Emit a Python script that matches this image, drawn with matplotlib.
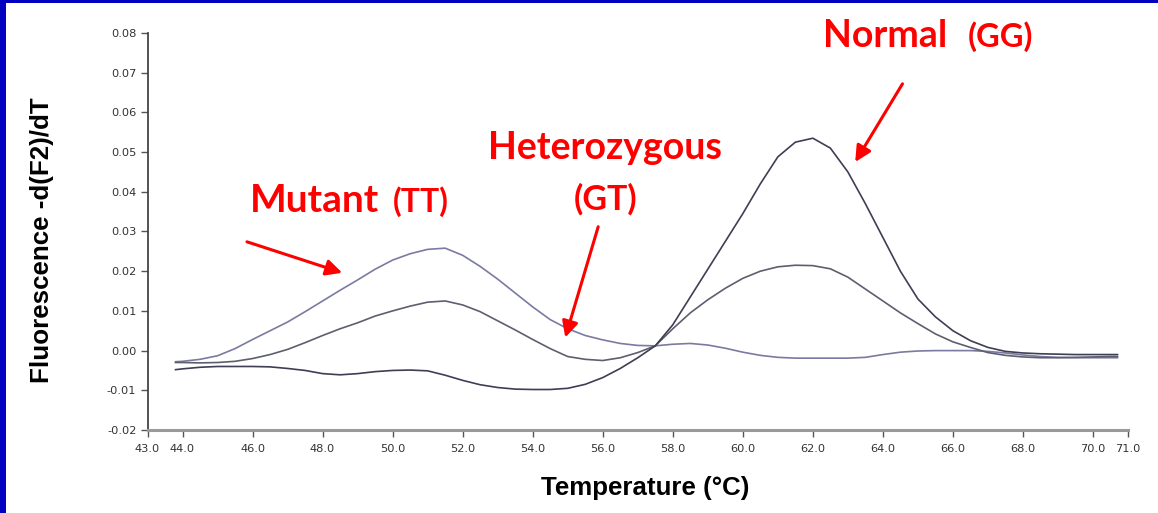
import matplotlib
matplotlib.use("Agg")
import matplotlib.pyplot as plt
from matplotlib.patches import Rectangle

# melt curve readings, -d(F2)/dT against temperature
temps = [43.8, 44.0, 44.5, 45.0, 45.5, 46.0, 46.5, 47.0, 47.5, 48.0,
         48.5, 49.0, 49.5, 50.0, 50.5, 51.0, 51.5, 52.0, 52.5, 53.0,
         53.5, 54.0, 54.5, 55.0, 55.5, 56.0, 56.5, 57.0, 57.5, 58.0,
         58.5, 59.0, 59.5, 60.0, 60.5, 61.0, 61.5, 62.0, 62.5, 63.0,
         63.5, 64.0, 64.5, 65.0, 65.5, 66.0, 66.5, 67.0, 67.5, 68.0,
         68.5, 69.0, 69.5, 70.0, 70.5, 70.7]

normal_gg = [-0.0048, -0.0046, -0.0042, -0.0040, -0.0040, -0.0040, -0.0041, -0.0045, -0.0050, -0.0058,
             -0.0061, -0.0058, -0.0053, -0.0050, -0.0049, -0.0051, -0.0062, -0.0075, -0.0086, -0.0093,
             -0.0097, -0.0098, -0.0098, -0.0095, -0.0085, -0.0068, -0.0045, -0.0018, 0.0012, 0.0065,
             0.0135, 0.0205, 0.0275, 0.0345, 0.0420, 0.0488, 0.0525, 0.0535, 0.0510, 0.0450,
             0.0370, 0.0285, 0.0200, 0.0130, 0.0085, 0.0050, 0.0025, 0.0008, -0.0002, -0.0006,
             -0.0008, -0.0009, -0.0010, -0.0010, -0.0010, -0.0010]

hetero_gt = [-0.0030, -0.0030, -0.0031, -0.0030, -0.0027, -0.0020, -0.0010, 0.0003, 0.0020, 0.0038,
             0.0055, 0.0070, 0.0087, 0.0100, 0.0112, 0.0122, 0.0125, 0.0115, 0.0098, 0.0075,
             0.0052, 0.0028, 0.0005, -0.0015, -0.0022, -0.0025, -0.0018, -0.0005, 0.0012, 0.0055,
             0.0095, 0.0128, 0.0157, 0.0182, 0.0200, 0.0211, 0.0215, 0.0214, 0.0206, 0.0185,
             0.0155, 0.0125, 0.0095, 0.0068, 0.0042, 0.0022, 0.0008, -0.0005, -0.0012, -0.0016,
             -0.0018, -0.0018, -0.0017, -0.0016, -0.0015, -0.0015]

mutant_tt = [-0.0028, -0.0027, -0.0022, -0.0013, 0.0005, 0.0028, 0.0050, 0.0072, 0.0098, 0.0125,
             0.0152, 0.0178, 0.0205, 0.0228, 0.0244, 0.0255, 0.0258, 0.0240, 0.0212, 0.0180,
             0.0145, 0.0110, 0.0078, 0.0055, 0.0038, 0.0027, 0.0018, 0.0013, 0.0012, 0.0016,
             0.0018, 0.0014, 0.0006, -0.0004, -0.0012, -0.0017, -0.0019, -0.0019, -0.0019, -0.0019,
             -0.0017, -0.0010, -0.0004, -0.0001, 0.0000, 0.0000, 0.0000, -0.0002, -0.0006, -0.0011,
             -0.0015, -0.0017, -0.0018, -0.0018, -0.0018, -0.0018]

xticks = [43, 44, 46, 48, 50, 52, 54, 56, 58, 60, 62, 64, 66, 68, 70, 71]
yticks = [-0.02, -0.01, 0.00, 0.01, 0.02, 0.03, 0.04, 0.05, 0.06, 0.07, 0.08]

fig = plt.figure(figsize=(11.58, 5.13), dpi=100)
ax = fig.add_axes([0.1274, 0.1618, 0.8467, 0.7739])

ax.plot(temps, mutant_tt, color="#7a7aa2", lw=1.2)
ax.plot(temps, hetero_gt, color="#5e5e6e", lw=1.2)
ax.plot(temps, normal_gg, color="#3e3e55", lw=1.2)

ax.set_xlim(43, 71)
ax.set_ylim(-0.02, 0.08)
ax.set_xticks(xticks)
ax.set_xticklabels(["%.1f" % t for t in xticks])
ax.set_yticks(yticks)
ax.set_yticklabels(["%.2f" % v for v in yticks])
ax.tick_params(direction="out", length=5, width=1, color="#555555",
               labelsize=8.2, labelcolor="#333333")
ax.tick_params(axis="x", pad=5)
ax.tick_params(axis="y", pad=3)

for side in ["top", "right"]:
    ax.spines[side].set_visible(False)
ax.spines["left"].set_color("#444444")
ax.spines["left"].set_linewidth(1.3)
ax.spines["bottom"].set_color("#9a9a9a")
ax.spines["bottom"].set_linewidth(2.2)

fig.text(42 / 1158, 1 - 240 / 513, "Fluorescence -d(F2)/dT", rotation=90,
         ha="center", va="center", fontsize=18.7, fontweight="bold",
         family="Liberation Sans")
fig.text(645 / 1158, 1 - 488 / 513, "Temperature (\u00b0C)", ha="center", va="center",
         fontsize=18.6, fontweight="bold", family="Liberation Sans")

# genotype labels and arrows
red = "#ff0000"
lab = dict(color=red, fontweight="bold", family="Lato", va="baseline")
ax.text(45.93, 0.0350, "Mutant", fontsize=28, ha="left", **lab)
ax.text(50.01, 0.0350, "(TT)", fontsize=23, ha="left", **lab)
ax.text(56.07, 0.0483, "Heterozygous", fontsize=27, ha="center", **lab)
ax.text(56.07, 0.0355, "(GT)", fontsize=24.5, ha="center", **lab)
ax.text(62.30, 0.0765, "Normal", fontsize=27, ha="left", **lab)
ax.text(66.41, 0.0765, "(GG)", fontsize=23.5, ha="left", **lab)

arrow = dict(arrowstyle="-|>", color=red, lw=2.2, mutation_scale=24,
             shrinkA=0, shrinkB=0)
ax.annotate("", xy=(48.56, 0.0196), xytext=(45.84, 0.0274), arrowprops=arrow)
ax.annotate("", xy=(54.93, 0.0033), xytext=(55.87, 0.0312), arrowprops=arrow)
ax.annotate("", xy=(63.21, 0.0475), xytext=(64.56, 0.0672), arrowprops=arrow)

# slide frame edges
fig.add_artist(Rectangle((0, 0), 6 / 1158, 1, transform=fig.transFigure,
                         color="#0000c0", lw=0))
fig.add_artist(Rectangle((0, 1 - 3 / 513), 1, 3 / 513, transform=fig.transFigure,
                         color="#0000c0", lw=0))

fig.savefig("out.png", dpi=100)
